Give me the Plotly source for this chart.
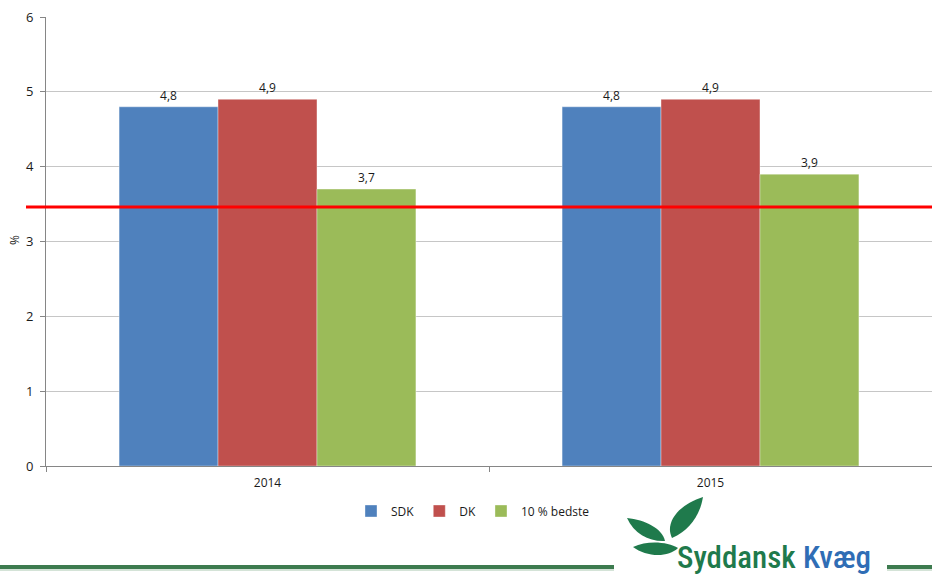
import plotly.graph_objects as go

years = ["2014", "2015"]
series_names = ["SDK", "DK", "10 % bedste"]
sdk = [4.8, 4.8]
dk = [4.9, 4.9]
best10 = [3.7, 3.9]
target_value = 3.46
y_ticks = [0, 1, 2, 3, 4, 5, 6]

colors = ["#4f81bd", "#c0504d", "#9bbb59"]
FONT = "Open Sans"

W, H = 932, 576
L, R, T, B = 46, 0, 17, 110
PW = W - L - R
PH = H - T - B


def px(x):
    return (x - L) / PW


def py(y):
    return (H - B - y) / PH


def fmt(v):
    return f"{v:.1f}".replace(".", ",")


fig = go.Figure()
for name, vals, c in zip(series_names, [sdk, dk, best10], colors):
    fig.add_trace(go.Bar(
        x=years, y=vals, name=name,
        marker=dict(color=c, line=dict(width=0.6, color="rgba(255,255,255,0.6)")),
        text=[fmt(v) for v in vals], textposition="outside",
        textfont=dict(family=FONT, size=12, color="#1a1a1a"),
        cliponaxis=False,
    ))

shapes = []
# red target line
shapes.append(dict(type="line", xref="paper", yref="y", x0=px(26), x1=1,
                   y0=target_value, y1=target_value,
                   line=dict(color="#ff0000", width=3), layer="above"))
# bottom green rule
shapes.append(dict(type="line", xref="paper", yref="paper", x0=px(0), x1=1,
                   y0=py(567), y1=py(567), line=dict(color="#3d7b4f", width=4), layer="above"))
shapes.append(dict(type="line", xref="paper", yref="paper", x0=px(0), x1=1,
                   y0=py(570), y1=py(570), line=dict(color="#a9c7b0", width=1), layer="above"))
# logo white background
shapes.append(dict(type="rect", xref="paper", yref="paper", x0=px(614), x1=px(887),
                   y0=py(577), y1=py(492), fillcolor="white", line=dict(width=0), layer="above"))


def path(points):
    s = ""
    for cmd, pts in points:
        s += cmd + " " + " ".join(f"{px(x):.5f},{py(y):.5f}" for x, y in pts) + " "
    return s + "Z"


leaf_color = "#1f7a4c"
shapes.append(dict(type="path", xref="paper", yref="paper", layer="above",
                   path=path([("M", [(672, 538)]),
                              ("C", [(664, 522), (680, 504), (703, 497)]),
                              ("C", [(700, 515), (690, 530), (672, 538)])]),
                   fillcolor=leaf_color, line=dict(width=0)))
shapes.append(dict(type="path", xref="paper", yref="paper", layer="above",
                   path=path([("M", [(627, 518)]),
                              ("C", [(645, 520), (662, 528), (665, 541)]),
                              ("C", [(650, 542), (634, 534), (627, 518)])]),
                   fillcolor=leaf_color, line=dict(width=0)))
shapes.append(dict(type="path", xref="paper", yref="paper", layer="above",
                   path=path([("M", [(633, 547)]),
                              ("C", [(648, 540), (668, 542), (678, 548)]),
                              ("C", [(668, 558), (646, 557), (633, 547)])]),
                   fillcolor=leaf_color, line=dict(width=0)))

annotations = [
    dict(text="%", xref="paper", yref="paper", x=px(15), y=py(240), showarrow=False,
         textangle=-90, font=dict(family=FONT, size=12, color="#1a1a1a"),
         xanchor="center", yanchor="middle"),
    dict(text="<span style='color:#1f7a4c'>Syddansk</span> <span style='color:#2f6db5'>Kvæg</span>",
         xref="paper", yref="paper", x=px(675), y=py(557), showarrow=False,
         xanchor="left", yanchor="middle",
         font=dict(family="Roboto Condensed, Roboto", size=31, weight=500)),
]

fig.update_layout(
    width=W, height=H,
    margin=dict(l=L, r=R, t=T, b=B, pad=0),
    paper_bgcolor="white", plot_bgcolor="white",
    barmode="group", bargap=0.33, bargroupgap=0,
    showlegend=True,
    legend=dict(orientation="h", x=px(473), xanchor="center", y=py(511), yanchor="middle",
                font=dict(family=FONT, size=12, color="#1a1a1a"),
                itemwidth=30, tracegroupgap=0),
    shapes=shapes,
    annotations=annotations,
    xaxis=dict(type="category", showline=True, linecolor="#868686", linewidth=1,
               ticks="outside", tickson="boundaries", ticklen=5, tickcolor="#868686",
               ticklabelstandoff=6,
               tickfont=dict(family=FONT, size=12, color="#1a1a1a"), showgrid=False),
    yaxis=dict(range=[0, 6], tickvals=y_ticks, ticktext=[str(v) for v in y_ticks],
               showline=True, linecolor="#868686", linewidth=1,
               ticks="outside", ticklen=5, tickcolor="#868686",
               ticklabelstandoff=4,
               showgrid=True, gridcolor="#c6c6c6", gridwidth=1, zeroline=False,
               tickfont=dict(family=FONT, size=13, color="#1a1a1a")),
)

fig.write_html("out.html", config={"displayModeBar": False},
               post_script="document.body.style.margin='0px';document.body.style.overflow='hidden';")
